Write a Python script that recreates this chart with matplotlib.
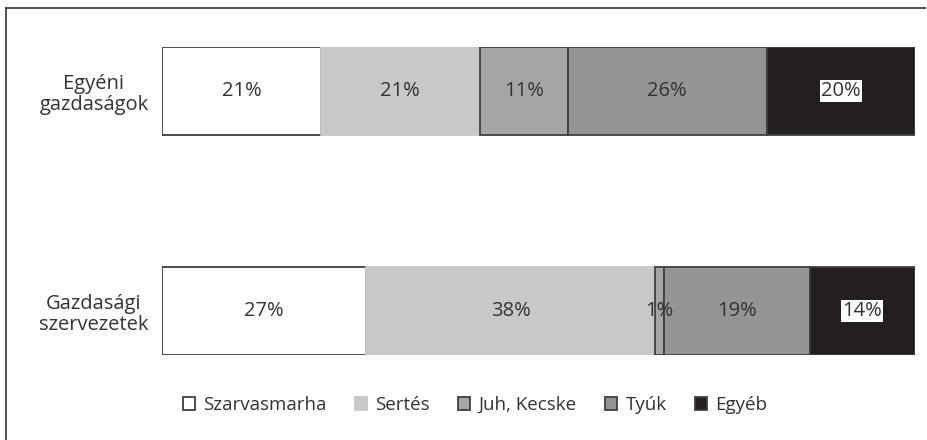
import matplotlib
matplotlib.use("Agg")
import matplotlib.pyplot as plt
from matplotlib.patches import Patch
from matplotlib.lines import Line2D

categories = ["Egyéni\ngazdaságok", "Gazdasági\nszervezetek"]
series = ["Szarvasmarha", "Sertés", "Juh, Kecske", "Tyúk", "Egyéb"]
shares = {
    "Szarvasmarha": [21.1, 27.1],
    "Sertés": [21.1, 38.4],
    "Juh, Kecske": [11.7, 1.2],
    "Tyúk": [26.4, 19.3],
    "Egyéb": [19.7, 14.0],
}
labels = {
    "Szarvasmarha": ["21%", "27%"],
    "Sertés": ["21%", "38%"],
    "Juh, Kecske": ["11%", "1%"],
    "Tyúk": ["26%", "19%"],
    "Egyéb": ["20%", "14%"],
}
colors = {
    "Szarvasmarha": "#ffffff",
    "Sertés": "#c8c8ca",
    "Juh, Kecske": "#a5a5a7",
    "Tyúk": "#949496",
    "Egyéb": "#231f20",
}
edges = {
    "Szarvasmarha": "#404040",
    "Sertés": "#c8c8ca",
    "Juh, Kecske": "#404040",
    "Tyúk": "#404040",
    "Egyéb": "#404040",
}

plt.rcParams["font.family"] = ["Open Sans", "DejaVu Sans"]
W, H = 927, 440
fig = plt.figure(figsize=(W / 100, H / 100), dpi=100)
ax = fig.add_axes([162 / W, (H - 355) / H, (915 - 162) / W, 308 / H])

ypos = list(range(len(categories)))
left = [0.0] * len(categories)
for s in series:
    ax.barh(ypos, shares[s], left=left, height=0.4, color=colors[s],
            edgecolor=edges[s], linewidth=1.3)
    for i, (v, lab) in enumerate(zip(shares[s], labels[s])):
        cx = left[i] + v / 2
        if s == "Egyéb":
            ax.text(cx, ypos[i], lab, ha="center", va="center", fontsize=14.5,
                    color="#333333",
                    bbox=dict(boxstyle="square,pad=0.05", fc="white", ec="none"))
        else:
            ax.text(cx, ypos[i], lab, ha="center", va="center", fontsize=14.5,
                    color="#333333")
    left = [l + v for l, v in zip(left, shares[s])]

ax.set_xlim(0, 100)
ax.set_ylim(1.2, -0.2)
ax.set_yticks(ypos)
ax.set_yticklabels(categories, fontsize=14.5, color="#333333", ha="center",
                   linespacing=1.1)
ax.tick_params(axis="y", length=0, pad=49)
ax.set_xticks([])
for sp in ax.spines.values():
    sp.set_visible(False)

handles = [Patch(facecolor=colors[s], edgecolor=edges[s], linewidth=1.3) for s in series]
fig.legend(handles, series, loc="center", bbox_to_anchor=(475 / W, 1 - 405 / H),
           ncol=5, frameon=False, fontsize=13.5, handlelength=0.65, handleheight=0.65,
           handletextpad=0.45, columnspacing=1.5, labelcolor="#333333")

# outer frame (left and top)
fig.add_artist(Line2D([6 / W, 6 / W], [0, 1 - 8 / H], color="#333333", lw=1.2,
                      transform=fig.transFigure))
fig.add_artist(Line2D([6 / W, 925 / W], [1 - 8 / H, 1 - 8 / H], color="#333333", lw=1.2,
                      transform=fig.transFigure))

fig.savefig("out.png", dpi=100, facecolor="white")
